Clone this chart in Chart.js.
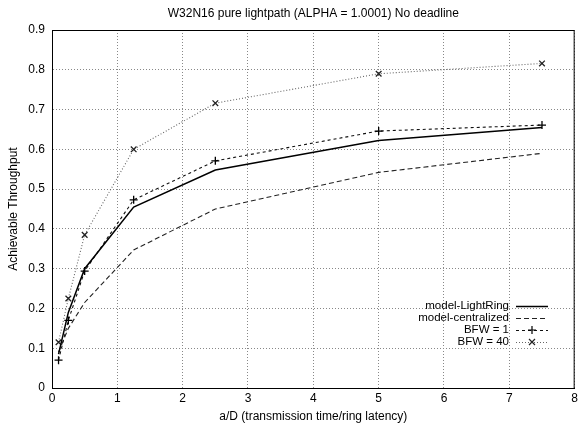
<!DOCTYPE html>
<html>
<head>
<meta charset="utf-8">
<script src="https://cdn.jsdelivr.net/npm/chart.js@4.4.1/dist/chart.umd.min.js"></script>
<style>
  html, body { margin: 0; padding: 0; background: #fff; }
  canvas { display: block; }
</style>
</head>
<body>
<canvas id="chart" width="581" height="424"></canvas>
<script>
// a/D values (x axis)
const xValues = [0.1, 0.25, 0.5, 1.25, 2.5, 5, 7.5];
// achievable throughput per series
const lightRing   = [0.085, 0.19, 0.30, 0.455, 0.548, 0.622, 0.655];
const centralized = [0.09, 0.15, 0.215, 0.347, 0.45, 0.542, 0.59];
const bfw1        = [0.07, 0.17, 0.294, 0.473, 0.571, 0.646, 0.661];
const bfw40       = [0.115, 0.225, 0.385, 0.60, 0.716, 0.79, 0.816];

const seriesNames = ['model-LightRing', 'model-centralized', 'BFW = 1', 'BFW = 40'];
const xTicks = [0, 1, 2, 3, 4, 5, 6, 7, 8];
const yTicks = [0, 0.1, 0.2, 0.3, 0.4, 0.5, 0.6, 0.7, 0.8, 0.9];

const FONT = '"Liberation Sans", Arial, Helvetica, sans-serif';

function toPoints(ys) {
    return xValues.map((x, i) => ({ x: x, y: ys[i] }));
}

// Draw the title, frame and in-plot legend the gnuplot way
const decorPlugin = {
    id: 'decor',
    afterDraw(chart) {
        const ctx = chart.ctx;
        const a = chart.chartArea;
        ctx.save();
        // frame
        ctx.strokeStyle = '#000';
        ctx.lineWidth = 1;
        ctx.setLineDash([]);
        ctx.strokeRect(a.left + 0.5, a.top + 0.5, a.right - a.left - 1, a.bottom - a.top);
        // title
        ctx.fillStyle = '#000';
        ctx.font = '12px ' + FONT;
        ctx.textAlign = 'center';
        ctx.textBaseline = 'middle';
        ctx.fillText('W32N16 pure lightpath (ALPHA = 1.0001) No deadline', (a.left + a.right) / 2, 14);
        // legend
        ctx.font = '11.5px ' + FONT;
        const textX = 509, lineX0 = 516, lineX1 = 548;
        const rowY = [306, 318, 330, 342];
        chart.data.datasets.forEach((ds, i) => {
            const y = rowY[i];
            ctx.fillStyle = '#000';
            ctx.textAlign = 'right';
            ctx.fillText(ds.label, textX, y);
            ctx.strokeStyle = ds.borderColor;
            ctx.lineWidth = ds.borderWidth;
            ctx.setLineDash(ds.borderDash || []);
            ctx.beginPath();
            ctx.moveTo(lineX0, y + 0.5);
            ctx.lineTo(lineX1, y + 0.5);
            ctx.stroke();
            ctx.setLineDash([]);
            if (ds.pointRadius > 0) {
                const cx = (lineX0 + lineX1) / 2, r = ds.pointRadius;
                ctx.strokeStyle = ds.pointBorderColor;
                ctx.lineWidth = 1.2;
                ctx.beginPath();
                if (ds.pointStyle === 'cross') {
                    ctx.moveTo(cx - r, y); ctx.lineTo(cx + r, y);
                    ctx.moveTo(cx, y - r); ctx.lineTo(cx, y + r);
                } else {
                    const d = r * 0.75;
                    ctx.moveTo(cx - d, y - d); ctx.lineTo(cx + d, y + d);
                    ctx.moveTo(cx - d, y + d); ctx.lineTo(cx + d, y - d);
                }
                ctx.stroke();
            }
        });
        ctx.restore();
    }
};

new Chart(document.getElementById('chart'), {
    type: 'line',
    data: {
        datasets: [
            {
                label: seriesNames[0],
                data: toPoints(lightRing),
                borderColor: '#000',
                borderWidth: 1.5,
                pointRadius: 0,
                tension: 0
            },
            {
                label: seriesNames[1],
                data: toPoints(centralized),
                borderColor: '#222',
                borderWidth: 1.1,
                borderDash: [5, 3],
                pointRadius: 0,
                tension: 0
            },
            {
                label: seriesNames[2],
                data: toPoints(bfw1),
                borderColor: '#111',
                borderWidth: 1.1,
                borderDash: [3, 3],
                pointStyle: 'cross',
                pointRadius: 4,
                pointBorderWidth: 1.3,
                pointBorderColor: '#000',
                tension: 0
            },
            {
                label: seriesNames[3],
                data: toPoints(bfw40),
                borderColor: '#666',
                borderWidth: 1.1,
                borderDash: [1, 2],
                pointStyle: 'crossRot',
                pointRadius: 4,
                pointBorderWidth: 1.3,
                pointBorderColor: '#222',
                tension: 0
            }
        ]
    },
    options: {
        responsive: false,
        animation: false,
        layout: { padding: { top: 30, right: 3, left: 0, bottom: 0 } },
        plugins: {
            legend: { display: false },
            title: { display: false },
            tooltip: { enabled: false }
        },
        scales: {
            x: {
                type: 'linear',
                min: 0,
                max: 8,
                afterBuildTicks: s => { s.ticks = xTicks.map(v => ({ value: v })); },
                afterFit: s => { s.height = 36; },
                grid: { color: '#888', drawTicks: false },
                border: { display: true, color: '#000', dash: [1, 2] },
                ticks: { color: '#000', font: { family: FONT, size: 12 }, padding: 3, maxRotation: 0 },
                title: {
                    display: true,
                    text: 'a/D (transmission time/ring latency)',
                    color: '#000',
                    font: { family: FONT, size: 12 },
                    padding: { top: 2, bottom: 0 }
                }
            },
            y: {
                min: 0,
                max: 0.9,
                afterBuildTicks: s => { s.ticks = yTicks.map(v => ({ value: v })); },
                afterFit: s => { s.width = 52; },
                grid: { color: '#888', drawTicks: false },
                border: { display: true, color: '#000', dash: [1, 2] },
                ticks: {
                    color: '#000',
                    font: { family: FONT, size: 12 },
                    padding: 7,
                    callback: v => String(Math.round(v * 10) / 10)
                },
                title: {
                    display: true,
                    text: 'Achievable Throughput',
                    color: '#000',
                    font: { family: FONT, size: 12 },
                    padding: { top: 6, bottom: 8 }
                }
            }
        }
    },
    plugins: [decorPlugin]
});
</script>
</body>
</html>
